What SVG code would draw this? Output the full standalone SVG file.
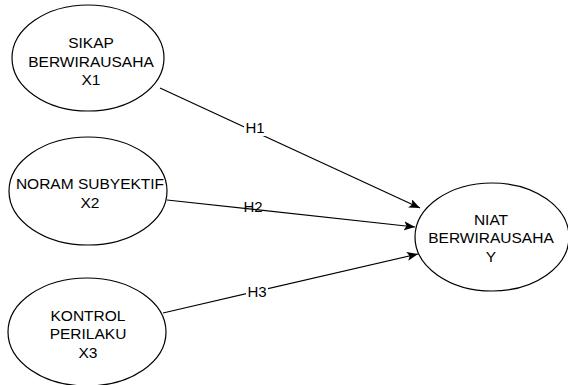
<svg xmlns="http://www.w3.org/2000/svg" width="568" height="385" viewBox="0 0 568 385">
<style>
.n{fill:#fff;stroke:#000;stroke-width:1.2}
.t{font-family:"Liberation Sans",Arial,sans-serif;font-size:15.5px;fill:#000;text-anchor:middle}
.e{fill:none;stroke:#000;stroke-width:1.2}
.l{font-family:"Liberation Sans",Arial,sans-serif;font-size:15px;fill:#000;text-anchor:middle}
</style>
<defs>
<marker id="a" markerUnits="userSpaceOnUse" markerWidth="12" markerHeight="10" refX="11" refY="4.5" orient="auto">
<path d="M0,0 L11,4.5 L0,9 L2.5,4.5 Z" fill="#000"/>
</marker>
</defs>
<rect width="568" height="385" fill="#fff"/>
<g id="edges">
<line class="e" x1="160" y1="88" x2="420" y2="208" marker-end="url(#a)"/>
<line class="e" x1="167" y1="200" x2="415" y2="227" marker-end="url(#a)"/>
<line class="e" x1="163" y1="313" x2="418" y2="254" marker-end="url(#a)"/>
<rect x="244" y="118" width="22" height="18" fill="#fff"/>
<text class="l" x="255" y="133">H1</text>
<text class="l" x="253" y="212">H2</text>
<rect x="246" y="283" width="22" height="18" fill="#fff"/>
<text class="l" x="257" y="297">H3</text>
</g>
<g id="x1">
<ellipse class="n" cx="88" cy="58" rx="76" ry="53"/>
<text class="t" x="91" y="48">SIKAP</text>
<text class="t" x="91" y="67">BERWIRAUSAHA</text>
<text class="t" x="91" y="85">X1</text>
</g>
<g id="x2">
<ellipse class="n" cx="88" cy="191" rx="79" ry="54"/>
<text class="t" x="90" y="189">NORAM SUBYEKTIF</text>
<text class="t" x="90" y="208">X2</text>
</g>
<g id="x3">
<ellipse class="n" cx="87" cy="332" rx="79" ry="54"/>
<text class="t" x="88" y="321">KONTROL</text>
<text class="t" x="88" y="339">PERILAKU</text>
<text class="t" x="88" y="358">X3</text>
</g>
<g id="y">
<ellipse class="n" cx="492" cy="237" rx="77" ry="54"/>
<text class="t" x="491" y="225">NIAT</text>
<text class="t" x="491" y="243">BERWIRAUSAHA</text>
<text class="t" x="491" y="262">Y</text>
</g>
</svg>
